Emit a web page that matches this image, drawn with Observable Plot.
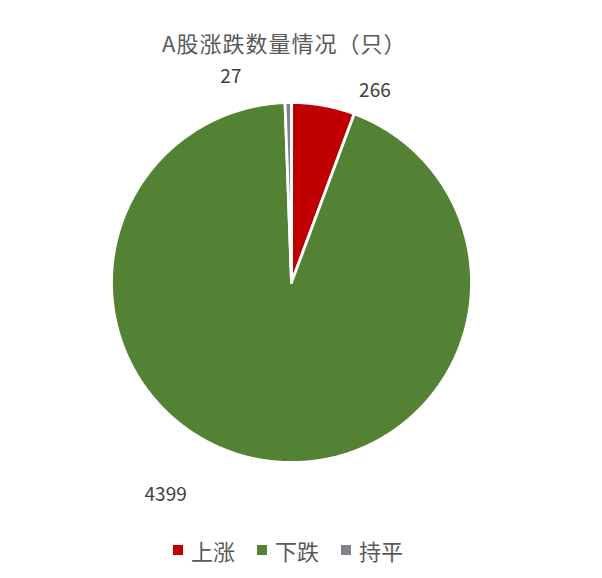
<!DOCTYPE html>
<html>
<head>
<meta charset="utf-8">
<script src="https://cdn.jsdelivr.net/npm/d3@7"></script>
<script src="https://cdn.jsdelivr.net/npm/@observablehq/plot@0.6"></script>
<style>
  body { margin: 0; background: #fff; width: 602px; height: 578px; overflow: hidden;
         font-family: "Noto Sans CJK SC", "Noto Sans", sans-serif; }
  #title { height: 60px; box-sizing: border-box; padding: 30px 0 0 162px; font-size: 22px;
           letter-spacing: 1px; line-height: 25px; color: #595959; white-space: nowrap; }
  #chart svg { display: block; }
  #legend { padding-top: 14px; }
  .lg-swatches { justify-content: center; font-family: "Noto Sans CJK SC", sans-serif !important;
                 font-size: 22px !important; color: #595959; min-height: 28px !important;
                 margin: 0 0 0 -4px !important; }
  .lg-swatch { margin-right: 22px !important; margin-left: 0 !important; }
  .lg-swatch > svg { margin-right: 8px !important; }
</style>
</head>
<body>
<div id="title"></div>
<div id="chart"></div>
<div id="legend"></div>
<script>
// ---- data ----
const title = "A股涨跌数量情况（只）";
const categories = ["上涨", "下跌", "持平"];
const counts = [266, 4399, 27];
const colors = ["#c00000", "#548235", "#80848a"];

// ---- layout ----
const W = 602, H = 460;
const cx = 291, cy = 222, R = 180;
const labelRadius = 200;
const labelNudge = [[48, 5], [-94, 15], [-57, -6]];

document.getElementById("title").textContent = title;

const data = categories.map((name, i) => ({name, count: counts[i]}));
const arcs = d3.pie().sort(null).value(d => d.count)(data);

// slice outlines (center -> arc -> center), computed from the pie angles
const points = [];
arcs.forEach(a => {
  const n = Math.max(2, Math.ceil((a.endAngle - a.startAngle) / 0.005));
  points.push({name: a.data.name, x: 0, y: 0});
  for (let k = 0; k <= n; k++) {
    const t = a.startAngle + (a.endAngle - a.startAngle) * k / n;
    points.push({name: a.data.name, x: R * Math.sin(t), y: -R * Math.cos(t)});
  }
  points.push({name: a.data.name, x: 0, y: 0});
});

const labels = arcs.map((a, i) => {
  const m = (a.startAngle + a.endAngle) / 2;
  return {
    text: String(a.data.count),
    x: labelRadius * Math.sin(m) + labelNudge[i][0],
    y: -labelRadius * Math.cos(m) + labelNudge[i][1]
  };
});

const chart = Plot.plot({
  width: W, height: H,
  margin: 0,
  x: {domain: [-cx, W - cx], range: [0, W], axis: null},
  y: {domain: [-cy, H - cy], range: [0, H], axis: null},
  color: {domain: categories, range: colors},
  style: {background: "#fff", overflow: "visible"},
  marks: [
    Plot.line(points, {x: "x", y: "y", z: "name", fill: "name", stroke: "#fff",
      strokeWidth: 2.8, strokeLinejoin: "miter", curve: "linear"}),
    Plot.text(labels, {x: "x", y: "y", text: "text", fill: "#404040", fontSize: 19,
      fontFamily: "Noto Sans CJK SC, sans-serif"})
  ]
});
document.getElementById("chart").append(chart);

const legend = Plot.legend({
  color: {domain: categories, range: colors},
  legend: "swatches",
  swatchSize: 10,
  className: "lg"
});
document.getElementById("legend").append(legend);
</script>
</body>
</html>
